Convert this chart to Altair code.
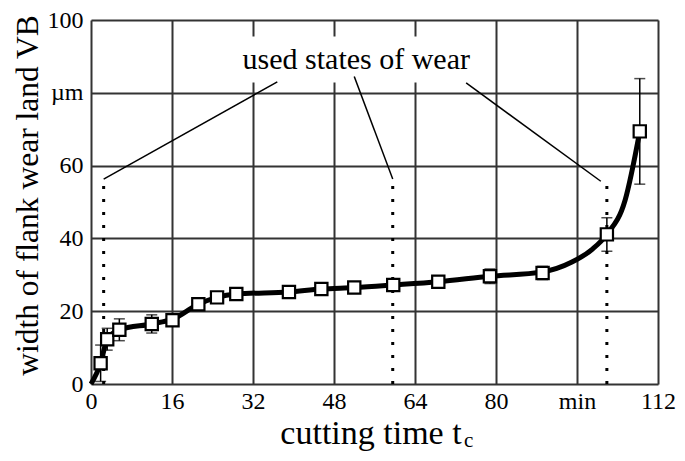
import altair as alt
import pandas as pd

# measured points (cutting time in min, flank wear width in µm)
pt_x = [1.9, 3.2, 5.6, 12.0, 16.1, 21.2, 24.9, 28.7, 39.1, 45.5, 52.0, 59.7, 68.6, 78.8, 89.2, 101.9, 108.4]
pt_y = [5.7, 12.3, 14.9, 16.5, 17.5, 21.9, 23.8, 24.7, 25.3, 26.1, 26.5, 27.2, 28.1, 29.6, 30.5, 41.1, 69.4]
pt_err = [5.0, 3.0, 3.0, 2.5, 1.5, 1.0, 1.0, 1.0, 1.0, 1.0, 1.0, 1.2, 1.0, 2.0, 1.8, 4.6, 14.5]

# fitted curve
curve_x = [0, 1.9, 3.2, 5.6, 12.0, 16.1, 21.2, 24.9, 28.7, 39.1, 45.5, 52.0, 59.7, 68.6, 78.8, 89.2, 95.0, 99.0, 101.9, 105.5, 108.4]
curve_y = [0, 5.7, 12.3, 14.9, 16.5, 17.8, 21.9, 23.8, 24.7, 25.3, 26.1, 26.5, 27.2, 28.1, 29.6, 30.8, 33.5, 37.0, 41.1, 50.5, 69.4]

# used states of wear (dotted markers)
state_x = [2.5, 59.6, 101.9]
state_top = [57.0, 57.0, 57.0]

# leader lines from label to markers
lead_x1 = [36.8, 52.0, 74.1]
lead_y1 = [83.0, 84.5, 82.7]
lead_x2 = [2.5, 59.6, 100.7]
lead_y2 = [56.3, 56.3, 55.7]

x_ticks = [0, 16, 32, 48, 64, 80, 96, 112]
y_ticks = [0, 20, 40, 60, 80, 100]

pts = pd.DataFrame({"x": pt_x, "y": pt_y, "lo": [a - b for a, b in zip(pt_y, pt_err)],
                    "hi": [a + b for a, b in zip(pt_y, pt_err)]})
curve = pd.DataFrame({"x": curve_x, "y": curve_y})
states = pd.DataFrame({"x": state_x, "y": [0] * len(state_x), "y2": state_top})
leads = pd.DataFrame({"x": lead_x1, "y": lead_y1, "x2": lead_x2, "y2": lead_y2})
box = pd.DataFrame({"x": [29.0], "x2": [76.5], "y": [82.8], "y2": [95.5]})
label = pd.DataFrame({"x": [52.4], "y": [86.6], "t": ["used states of wear"]})

FONT = "Liberation Serif"

xs = alt.Scale(domain=[0, 112], nice=False, zero=False)
ys = alt.Scale(domain=[0, 100], nice=False, zero=False)

xax = alt.Axis(values=x_ticks, title=None, grid=True, gridColor="#333333", gridWidth=2,
               gridOpacity=1, domain=False, ticks=False, labelFont=FONT, labelFontSize=24,
               labelColor="black", labelPadding=5, labelFlush=False,
               labelExpr="datum.value == 96 ? 'min' : datum.label")
yax = alt.Axis(values=y_ticks, title="width of flank wear land VB", grid=True, gridColor="#333333",
               gridWidth=2, gridOpacity=1, domain=False, ticks=False, labelFont=FONT,
               labelFontSize=24, labelColor="black", labelPadding=8,
               labelExpr="datum.value == 80 ? 'µm' : datum.label",
               titleFont=FONT, titleFontSize=31.5, titleFontWeight="normal", titleColor="black",
               titleX=-63, titleY=175, titleAlign="center", titleBaseline="middle", titleAngle=-90)

base_x = alt.X("x:Q", scale=xs, axis=xax)
base_y = alt.Y("y:Q", scale=ys, axis=yax)

bg = alt.Chart(box).mark_rect(fill="white").encode(
    x=base_x, x2="x2:Q", y=base_y, y2="y2:Q")

dots = alt.Chart(states).mark_rule(color="black", strokeWidth=3, strokeDash=[3, 10]).encode(
    x=alt.X("x:Q", scale=xs), y=alt.Y("y:Q", scale=ys), y2="y2:Q")

lead = alt.Chart(leads).mark_rule(color="black", strokeWidth=1.5).encode(
    x=alt.X("x:Q", scale=xs), y=alt.Y("y:Q", scale=ys), x2="x2:Q", y2="y2:Q")

txt = alt.Chart(label).mark_text(font=FONT, fontSize=30, color="black", baseline="alphabetic").encode(
    x=alt.X("x:Q", scale=xs), y=alt.Y("y:Q", scale=ys), text="t:N")

line = alt.Chart(curve).mark_line(color="black", strokeWidth=5, interpolate="monotone").encode(
    x=alt.X("x:Q", scale=xs), y=alt.Y("y:Q", scale=ys))

err = alt.Chart(pts).mark_rule(color="black", strokeWidth=1.5).encode(
    x=alt.X("x:Q", scale=xs), y=alt.Y("lo:Q", scale=ys), y2="hi:Q")
cap_lo = alt.Chart(pts).mark_tick(color="black", thickness=1.5, size=11, orient="horizontal").encode(
    x=alt.X("x:Q", scale=xs), y=alt.Y("lo:Q", scale=ys))
cap_hi = alt.Chart(pts).mark_tick(color="black", thickness=1.5, size=11, orient="horizontal").encode(
    x=alt.X("x:Q", scale=xs), y=alt.Y("hi:Q", scale=ys))

sq = alt.Chart(pts).mark_point(shape="square", size=150, filled=True, fill="white",
                               stroke="black", strokeWidth=2.2, opacity=1).encode(
    x=alt.X("x:Q", scale=xs), y=alt.Y("y:Q", scale=ys))

xt = alt.Chart(pd.DataFrame({"t": ["cutting time t"]})).mark_text(
    font=FONT, fontSize=34, color="black", baseline="alphabetic", align="center").encode(
    x=alt.value(280), y=alt.value(424), text="t:N")
xsub = alt.Chart(pd.DataFrame({"t": ["c"]})).mark_text(
    font=FONT, fontSize=21, color="black", baseline="alphabetic", align="left").encode(
    x=alt.value(373), y=alt.value(427), text="t:N")

chart = alt.layer(bg, dots, lead, txt, line, err, cap_lo, cap_hi, sq, xt, xsub).properties(
    width=567, height=364, autosize=alt.AutoSizeParams(type="none"),
    padding={"left": 83, "top": 12, "right": 19, "bottom": 69},
).configure_view(stroke="black", strokeWidth=3).configure(background="white")

chart.save("out.html", embed_options={"renderer": "svg", "actions": False})
